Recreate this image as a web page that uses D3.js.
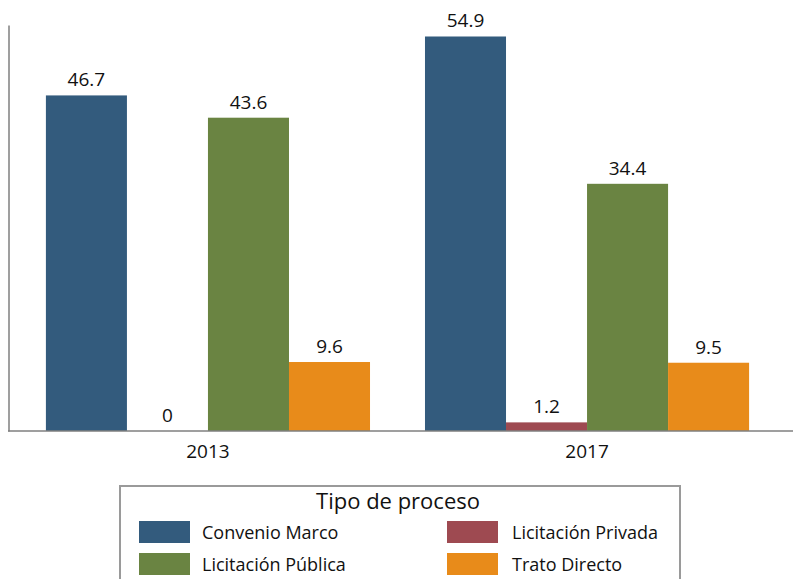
<!DOCTYPE html>
<html>
<head>
<meta charset="utf-8">
<script src="https://cdn.jsdelivr.net/npm/d3@7"></script>
<style>
  html, body { margin: 0; padding: 0; background: #fff; }
  svg { display: block; font-family: "Open Sans", "Noto Sans", sans-serif; }
</style>
</head>
<body>
<svg id="chart" width="794" height="579"></svg>
<script>
// Years shown on the x axis
const years = ["2013", "2017"];
// Procurement process types (series)
const procesos = ["Convenio Marco", "Licitación Privada", "Licitación Pública", "Trato Directo"];
// Share per process type, one array per year
const values2013 = [46.7, 0, 43.6, 9.6];
const values2017 = [54.9, 1.2, 34.4, 9.5];
const colors = ["#335b7d", "#9e4a51", "#6a8442", "#e88b1a"];
const legendTitle = "Tipo de proceso";

const valuesByYear = { "2013": values2013, "2017": values2017 };
const rows = years.map(y => ({
  year: y,
  items: procesos.map((p, i) => ({ proceso: p, value: valuesByYear[y][i] }))
}));

const svg = d3.select("#chart");

const x0 = d3.scaleBand().domain(years).range([8, 787]).paddingInner(0.145).paddingOuter(0.1);
const x1 = d3.scaleBand().domain(procesos).range([0, x0.bandwidth()]).padding(0);
const y = d3.scaleLinear().domain([0, 56.5]).range([431, 25]);
const color = d3.scaleOrdinal().domain(procesos).range(colors);

// Bars
const groups = svg.append("g").selectAll("g")
  .data(rows).join("g")
  .attr("transform", d => `translate(${x0(d.year)},0)`);

groups.selectAll("rect")
  .data(d => d.items).join("rect")
  .attr("x", d => x1(d.proceso))
  .attr("width", x1.bandwidth())
  .attr("y", d => y(d.value))
  .attr("height", d => y(0) - y(d.value))
  .attr("fill", d => color(d.proceso));

// Value labels
groups.selectAll("text")
  .data(d => d.items).join("text")
  .attr("x", d => x1(d.proceso) + x1.bandwidth() / 2)
  .attr("y", d => y(d.value) - 9)
  .attr("text-anchor", "middle")
  .attr("font-size", 19)
  .attr("fill", "#111")
  .text(d => d.value);

// Axes
const xAxis = svg.append("g")
  .attr("transform", `translate(0,${y(0)})`)
  .call(d3.axisBottom(x0).tickSize(0).tickPadding(14));
xAxis.select(".domain").remove();
xAxis.selectAll("text").attr("font-size", 19).attr("fill", "#111")
  .style("font-family", "\"Open Sans\", \"Noto Sans\", sans-serif");

svg.append("line")
  .attr("x1", 8).attr("x2", 793)
  .attr("y1", y(0)).attr("y2", y(0))
  .attr("stroke", "#7f7f7f").attr("stroke-width", 1.5);

const yAxis = svg.append("g")
  .attr("transform", "translate(8.5,0)")
  .call(d3.axisLeft(y).tickValues([]).tickSize(0));
yAxis.select(".domain").attr("stroke", "#7f7f7f").attr("stroke-width", 1.5);

// Legend
const legend = svg.append("g");
legend.append("rect")
  .attr("x", 120).attr("y", 486)
  .attr("width", 560).attr("height", 120)
  .attr("fill", "#fff").attr("stroke", "#9a9a9a").attr("stroke-width", 2);
legend.append("text")
  .attr("x", 398).attr("y", 509)
  .attr("text-anchor", "middle")
  .attr("font-size", 22).attr("fill", "#111")
  .text(legendTitle);

const legendPos = [
  { x: 139, y: 521 }, { x: 447, y: 521 },
  { x: 139, y: 553 }, { x: 447, y: 553 }
];
const legendItems = legend.selectAll("g.item")
  .data(procesos).join("g")
  .attr("class", "item")
  .attr("transform", (d, i) => `translate(${legendPos[i].x},${legendPos[i].y})`);
legendItems.append("rect")
  .attr("width", 51).attr("height", 22)
  .attr("fill", d => color(d));
legendItems.append("text")
  .attr("x", (d, i) => i % 2 === 0 ? 63 : 65).attr("y", 17.5)
  .attr("font-size", 18).attr("fill", "#111")
  .text(d => d);
</script>
</body>
</html>
